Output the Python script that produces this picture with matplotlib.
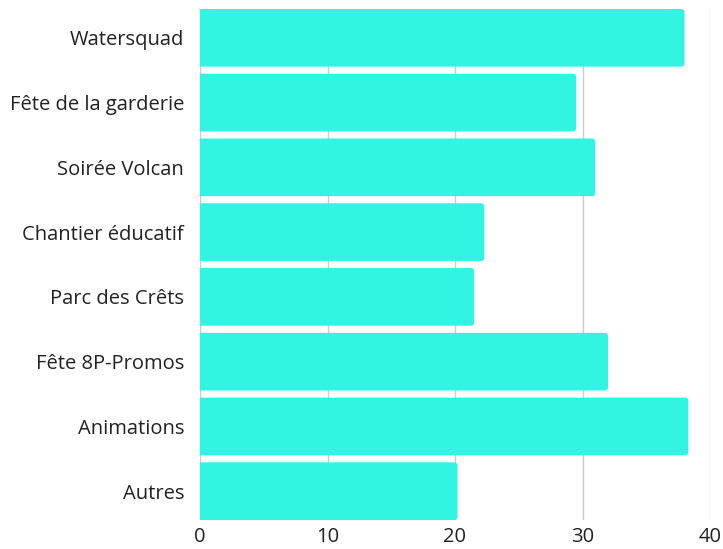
import matplotlib.pyplot as plt
import matplotlib.patches as patches
from matplotlib.path import Path

categories = ['Watersquad', 'Fête de la garderie', 'Soirée Volcan', 'Chantier éducatif',
              'Parc des Crêts', 'Fête 8P-Promos', 'Animations', 'Autres']
values = [38.0, 29.5, 31.0, 22.3, 21.5, 32.0, 38.3, 20.2]
xticks = [0, 10, 20, 30, 40]

color = '#31f4e2'
h = 0.89

plt.rcParams['font.family'] = ['Open Sans', 'DejaVu Sans']

fig = plt.figure(figsize=(7.23, 5.49), dpi=100)
ax = fig.add_axes([200 / 723, 1 - 520 / 549, 510 / 723, 511 / 549])

ax.set_xlim(0, 40)
ax.set_ylim(len(categories) - 1 + h / 2, -h / 2)

# corner radius of 3 px, in data units
rx = 3 / (510 / 40)
ry = 3 / (511 / (len(categories) - 1 + h))


def bar_path(y0, y1, x1):
    # square left end, rounded right end
    verts = [(0, y0), (x1 - rx, y0), (x1, y0), (x1, y0 + ry),
             (x1, y1 - ry), (x1, y1), (x1 - rx, y1), (0, y1), (0, y0)]
    codes = [Path.MOVETO, Path.LINETO, Path.CURVE3, Path.CURVE3,
             Path.LINETO, Path.CURVE3, Path.CURVE3, Path.LINETO, Path.CLOSEPOLY]
    return Path(verts, codes)


for i, v in enumerate(values):
    ax.add_patch(patches.PathPatch(bar_path(i - h / 2, i + h / 2, v),
                                   fc=color, ec='none', zorder=3))

ax.set_yticks(range(len(categories)))
ax.set_yticklabels(categories)
ax.set_xticks(xticks)
ax.tick_params(axis='both', length=0, labelsize=14.5, labelcolor='#222222')
ax.tick_params(axis='y', pad=11.5)
ax.tick_params(axis='x', pad=5)
ax.grid(axis='x', color='#cccccc', linewidth=1, zorder=0)
for s in ax.spines.values():
    s.set_visible(False)

fig.savefig('out.png', dpi=100)
